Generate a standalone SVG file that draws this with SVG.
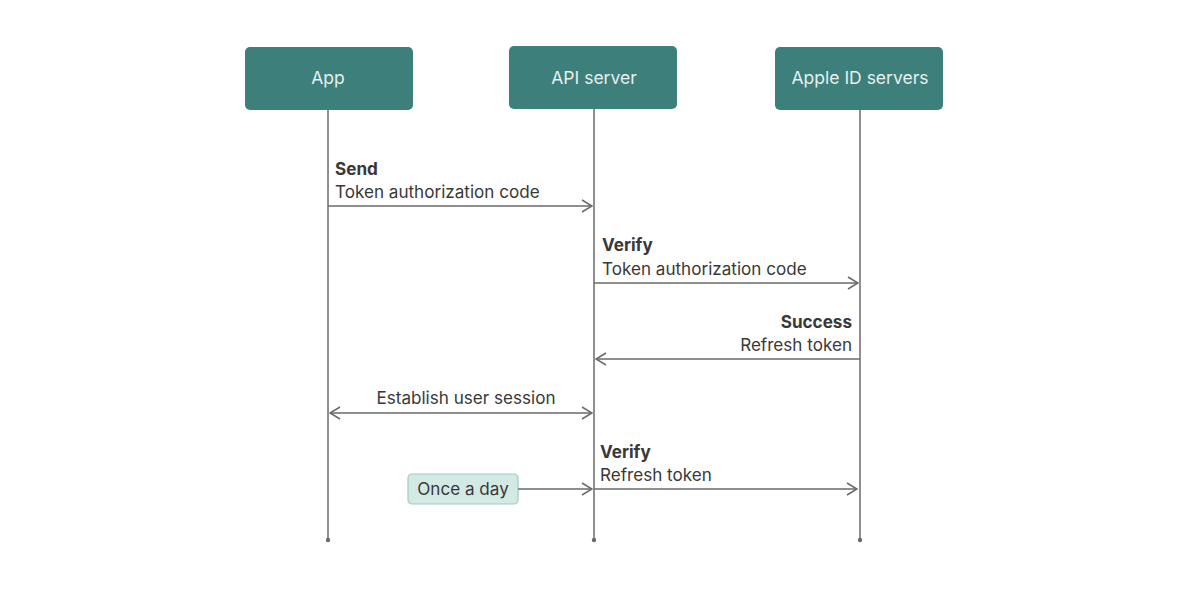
<svg xmlns="http://www.w3.org/2000/svg" width="1200" height="596" viewBox="0 0 1200 596">
<style>
.box{fill:#3d7f7b;}
.hdr{font-family:Inter,"Noto Sans",sans-serif;font-size:17.5px;fill:#e6f0ef;text-anchor:middle;}
.life{stroke:#6a6a6a;stroke-width:1.5;fill:none;}
.msg{stroke:#6a6a6a;stroke-width:1.5;fill:none;}
.t{font-family:Inter,"Noto Sans",sans-serif;font-size:17.1px;fill:#383838;}
.b{font-weight:700;}
.dot{fill:#6a6a6a;}
</style>
<defs>
<marker id="ah" viewBox="0 0 12 14" refX="11" refY="7" markerWidth="12" markerHeight="14" markerUnits="userSpaceOnUse" orient="auto-start-reverse">
<path d="M1,1 L11,7 L1,13" fill="none" stroke="#6a6a6a" stroke-width="1.5"/>
</marker>
</defs>
<rect width="1200" height="596" fill="#ffffff"/>
<g id="lifelines">
<line class="life" x1="328" y1="110" x2="328" y2="540"/>
<line class="life" x1="594" y1="109" x2="594" y2="540"/>
<line class="life" x1="860" y1="110" x2="860" y2="540"/>
<circle class="dot" cx="328" cy="540" r="2.2"/>
<circle class="dot" cx="594" cy="540" r="2.2"/>
<circle class="dot" cx="860" cy="540" r="2.2"/>
</g>
<g id="app">
<rect class="box" x="245" y="47" width="168" height="63" rx="5"/>
<text class="hdr" x="328" y="84">App</text>
</g>
<g id="api">
<rect class="box" x="509" y="46" width="168" height="63" rx="5"/>
<text class="hdr" x="594" y="84">API server</text>
</g>
<g id="apple">
<rect class="box" x="775" y="47" width="168" height="63" rx="5"/>
<text class="hdr" x="860" y="84">Apple ID servers</text>
</g>
<g id="once">
<rect x="408" y="474" width="110" height="30" rx="4" fill="#d2e9e4" stroke="#9fcbc4" stroke-width="1.2"/>
<text class="t" x="463" y="495" text-anchor="middle">Once a day</text>
</g>
<g id="connectors">
<line class="msg" x1="328" y1="206" x2="592" y2="206" marker-end="url(#ah)"/>
<line class="msg" x1="594" y1="283" x2="858" y2="283" marker-end="url(#ah)"/>
<line class="msg" x1="860" y1="359" x2="596" y2="359" marker-end="url(#ah)"/>
<line class="msg" x1="330" y1="413" x2="592" y2="413" marker-start="url(#ah)" marker-end="url(#ah)"/>
<line class="msg" x1="518" y1="489" x2="592" y2="489" marker-end="url(#ah)"/>
<line class="msg" x1="594" y1="489" x2="857" y2="489" marker-end="url(#ah)"/>
</g>
<g id="labels">
<text class="t b" x="335" y="175">Send</text>
<text class="t" x="335" y="198">Token authorization code</text>
<text class="t b" x="602" y="251">Verify</text>
<text class="t" x="602" y="275">Token authorization code</text>
<text class="t b" x="852" y="328" text-anchor="end">Success</text>
<text class="t" x="852" y="351" text-anchor="end">Refresh token</text>
<text class="t" x="466" y="404" text-anchor="middle">Establish user session</text>
<text class="t b" x="600" y="458">Verify</text>
<text class="t" x="600" y="481">Refresh token</text>
</g>
</svg>
